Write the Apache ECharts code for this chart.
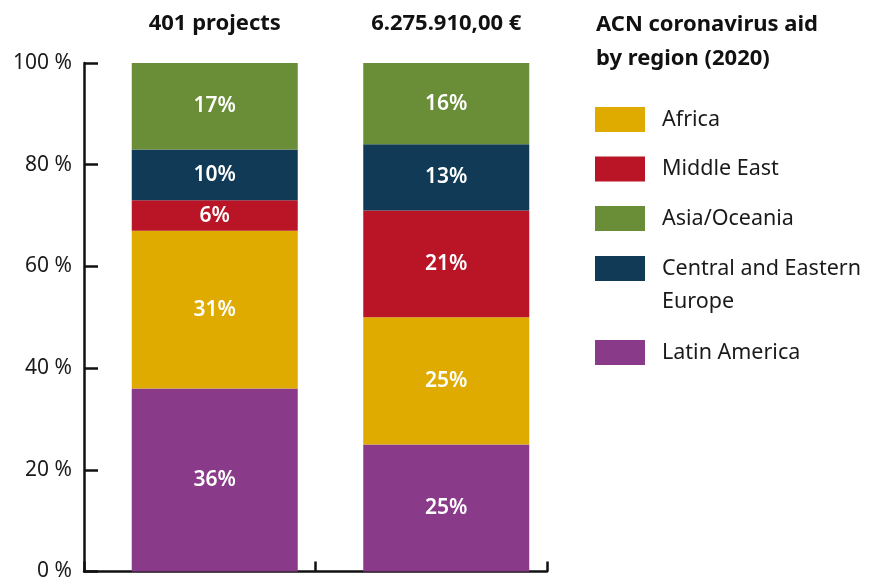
<!DOCTYPE html>
<html>
<head>
<meta charset="utf-8">
<script src="https://cdn.jsdelivr.net/npm/echarts@6/dist/echarts.min.js"></script>
<style>
html,body{margin:0;padding:0;background:#fff;}
#chart{width:884px;height:582px;}
</style>
</head>
<body>
<div id="chart"></div>
<script>
const categories = ['401 projects', '6.275.910,00 €'];
const latinAmerica = [36, 25];
const africa = [31, 25];
const middleEast = [6, 21];
const centralEasternEurope = [10, 13];
const asiaOceania = [17, 16];
const spacer = [0, 0];
const titleText = 'ACN coronavirus aid\nby region (2020)';

const FONT = 'Noto Sans';
const colors = {
  'Africa': '#E0AB00',
  'Middle East': '#BA1527',
  'Asia/Oceania': '#6A8E37',
  'Central and Eastern Europe': '#103A55',
  'Latin America': '#893B8A'
};

function barSeries(name, data) {
  return {
    name: name,
    type: 'bar',
    stack: 'share',
    data: data,
    barWidth: 166,
    itemStyle: { color: colors[name] },
    label: {
      show: true,
      position: 'inside',
      formatter: '{c}%',
      color: '#ffffff',
      fontFamily: FONT,
      fontWeight: 600,
      fontSize: 21
    },
    emphasis: { disabled: true }
  };
}

const legendText = { fontFamily: FONT, fontSize: 21.5, color: '#1a1a1a', lineHeight: 33, padding: [6, 0, 0, 12] };

const chart = echarts.init(document.getElementById('chart'), null, { renderer: 'canvas' });
chart.setOption({
  animation: false,
  backgroundColor: '#ffffff',
  title: {
    text: titleText,
    left: 596,
    top: 8,
    padding: 0,
    textStyle: { fontFamily: FONT, fontSize: 22, fontWeight: 'bold', color: '#111', lineHeight: 34 }
  },
  legend: [
    {
      orient: 'vertical', left: 595, top: 100, padding: 0, itemGap: 10.5,
      itemWidth: 50, itemHeight: 25, icon: 'rect', selectedMode: false,
      data: ['Africa', 'Middle East', 'Asia/Oceania'],
      textStyle: legendText
    },
    {
      orient: 'vertical', left: 595, top: 216, padding: 0,
      itemWidth: 50, itemHeight: 25, icon: 'rect', selectedMode: false,
      data: ['Central and Eastern Europe'],
      formatter: function () { return ' \nCentral and Eastern\nEurope'; },
      textStyle: legendText
    },
    {
      orient: 'vertical', left: 595, top: 333, padding: 0,
      itemWidth: 50, itemHeight: 25, icon: 'rect', selectedMode: false,
      data: ['Latin America'],
      textStyle: legendText
    }
  ],
  grid: { left: 84, right: 337, top: 63, bottom: 9, containLabel: false },
  xAxis: [
    {
      type: 'category',
      data: categories,
      position: 'bottom',
      axisLine: { show: true, lineStyle: { color: '#111', width: 2.5 } },
      axisTick: { show: true, inside: true, length: 10, lineStyle: { color: '#111', width: 2.5 } },
      axisLabel: { show: false },
      splitLine: { show: false }
    },
    {
      type: 'category',
      data: categories,
      position: 'top',
      axisLine: { show: false },
      axisTick: { show: false },
      axisLabel: {
        show: true, margin: 28, padding: [0, 0, 0, 30],
        fontFamily: FONT, fontSize: 22, fontWeight: 'bold', color: '#111'
      },
      splitLine: { show: false }
    }
  ],
  yAxis: {
    type: 'value',
    min: 0,
    max: 100,
    interval: 20,
    axisLine: { show: true, lineStyle: { color: '#111', width: 2.5 } },
    axisTick: { show: true, inside: true, length: 14, lineStyle: { color: '#111', width: 2.5 } },
    axisLabel: { formatter: '{value} %', fontFamily: FONT, fontSize: 21, color: '#1a1a1a', margin: 12 },
    splitLine: { show: false }
  },
  series: [
    {
      name: 'spacer', type: 'bar', stack: 'spacer', data: spacer, barWidth: 10, barGap: '200%',
      itemStyle: { color: 'rgba(0,0,0,0)' }, silent: true, label: { show: false }
    },
    barSeries('Latin America', latinAmerica),
    barSeries('Africa', africa),
    barSeries('Middle East', middleEast),
    barSeries('Central and Eastern Europe', centralEasternEurope),
    barSeries('Asia/Oceania', asiaOceania)
  ]
});
</script>
</body>
</html>
